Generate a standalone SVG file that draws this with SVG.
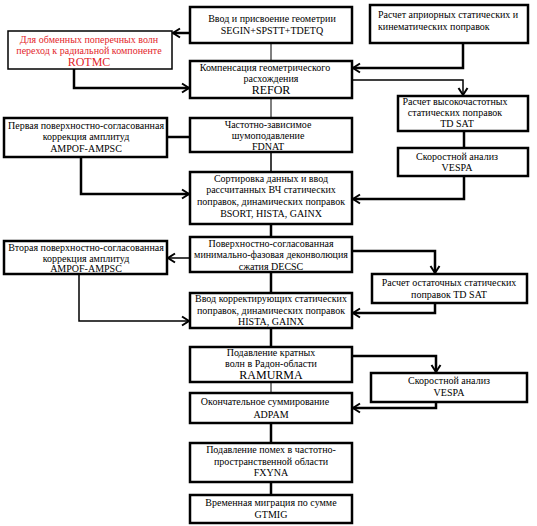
<svg xmlns="http://www.w3.org/2000/svg" width="537" height="526" viewBox="0 0 537 526">
<defs>
<marker id="ah" markerUnits="userSpaceOnUse" markerWidth="12" markerHeight="12" viewBox="-10 -6 12 12" refX="0" refY="0" orient="auto">
<path d="M-7,-4.5 L0,0 L-7,4.5" fill="none" stroke="#000" stroke-width="2"/>
</marker>
<style>
.b{fill:#fff;stroke:#000;stroke-width:2.5}
.bt{fill:#fff;stroke:#000;stroke-width:1.5}
text{font-family:"Liberation Serif","Times New Roman",serif;font-size:10px;fill:#000;text-anchor:middle}
.big{font-size:12px}
.red{fill:#e3262b}
.l{text-anchor:start}
.c{fill:none;stroke:#000;stroke-width:2.5}
.cm{fill:none;stroke:#000;stroke-width:1.5}
.ct{fill:none;stroke:#000;stroke-width:1}
.a{marker-end:url(#ah)}
</style>
</defs>
<rect width="537" height="526" fill="#fff"/>
<g id="connectors">
<path class="ct" d="M271,43 V61"/>
<path class="ct" d="M271,98 V118"/>
<path class="cm" d="M271,152 V172"/>
<path class="c" d="M271,224 V237"/>
<path class="c" d="M271,272 V293"/>
<path class="c" d="M271,328 V347"/>
<path class="ct" d="M271,382 V393"/>
<path class="c" d="M271,423 V443"/>
<path class="c" d="M271,482 V495"/>
<path class="c a" d="M190,33 H173"/>
<path class="c a" d="M74,69 V88 H189"/>
<path class="c a" d="M463,43 V68 H353"/>
<path class="cm a" d="M352,80 H463 V95"/>
<path class="c" d="M167,137 H190"/>
<path class="c a" d="M81,157 V194 H189"/>
<path class="c" d="M464,131 V148"/>
<path class="c a" d="M464,176 V199 H353"/>
<path class="cm a" d="M190,258 H168"/>
<path class="c a" d="M352,251 H435 V273"/>
<path class="c a" d="M435,303 V313 H353"/>
<path class="cm a" d="M79,274 V321 H189"/>
<path class="c a" d="M352,356 H436 V372"/>
<path class="c a" d="M436,402 V408 H353"/>
</g>
<g id="geom">
<rect class="b" x="190" y="7" width="162" height="36"/>
<text x="272" y="21.5">Ввод и присвоение геометрии</text>
<text x="272" y="33.5">SEGIN+SPSTT+TDETQ</text>
</g>
<g id="rotmc">
<rect class="bt" x="8" y="31" width="164" height="38"/>
<text class="red" x="89" y="43">Для обменных поперечных волн</text>
<text class="red" x="89" y="54">переход к радиальной компоненте</text>
<text class="red big" x="89" y="66">ROTMC</text>
</g>
<g id="apriori">
<rect class="b" x="370" y="5" width="158" height="38"/>
<text class="l" x="378" y="18">Расчет априорных статических и</text>
<text class="l" x="378" y="30">кинематических поправок</text>
</g>
<g id="refor">
<rect class="b" x="190" y="61" width="162" height="37"/>
<text x="265" y="71">Компенсация геометрического</text>
<text x="271" y="82">расхождения</text>
<text class="big" x="271" y="94">REFOR</text>
</g>
<g id="tdsat1">
<rect class="b" x="398" y="96" width="130" height="35"/>
<text x="455" y="105">Расчет высокочастотных</text>
<text x="455" y="116">статических поправок</text>
<text x="457" y="127">TD SAT</text>
</g>
<g id="ampof1">
<rect class="b" x="4" y="118" width="163" height="39"/>
<text x="86" y="129">Первая поверхностно-согласованная</text>
<text x="86" y="140">коррекция амплитуд</text>
<text x="86" y="152">AMPOF-AMPSC</text>
</g>
<g id="fdnat">
<rect class="b" x="190" y="118" width="162" height="34"/>
<text x="268" y="128">Частотно-зависимое</text>
<text x="268" y="139">шумоподавление</text>
<text x="268" y="150">FDNAT</text>
</g>
<g id="vespa1">
<rect class="b" x="398" y="148" width="130" height="28"/>
<text x="457" y="160">Скоростной анализ</text>
<text x="457" y="171">VESPA</text>
</g>
<g id="bsort">
<rect class="b" x="190" y="172" width="162" height="52"/>
<text x="271" y="182">Сортировка данных и ввод</text>
<text x="271" y="193">рассчитанных ВЧ статических</text>
<text x="271" y="205">поправок, динамических поправок</text>
<text x="271" y="217">BSORT, HISTA, GAINX</text>
</g>
<g id="decsc">
<rect class="b" x="190" y="237" width="162" height="35"/>
<text x="271" y="247">Поверхностно-согласованная</text>
<text x="271" y="258">минимально-фазовая деконволюция</text>
<text x="271" y="270">сжатия DECSC</text>
</g>
<g id="ampof2">
<rect class="b" x="4" y="241" width="163" height="33"/>
<text x="86" y="251">Вторая поверхностно-согласованная</text>
<text x="86" y="262">коррекция амплитуд</text>
<text x="86" y="272">AMPOF-AMPSC</text>
</g>
<g id="tdsat2">
<rect class="b" x="372" y="274" width="155" height="29"/>
<text x="449" y="286">Расчет остаточных статических</text>
<text x="449" y="298">поправок TD SAT</text>
</g>
<g id="hista">
<rect class="b" x="190" y="293" width="162" height="35"/>
<text x="271" y="302">Ввод корректирующих статических</text>
<text x="271" y="314">поправок, динамических поправок</text>
<text x="271" y="325">HISTA, GAINX</text>
</g>
<g id="ramurma">
<rect class="b" x="190" y="347" width="162" height="35"/>
<text x="271" y="356">Подавление кратных</text>
<text x="271" y="367">волн в Радон-области</text>
<text class="big" x="271" y="379">RAMURMA</text>
</g>
<g id="vespa2">
<rect class="b" x="371" y="373" width="156" height="29"/>
<text x="449" y="384">Скоростной анализ</text>
<text x="449" y="396">VESPA</text>
</g>
<g id="adpam">
<rect class="b" x="190" y="393" width="162" height="30"/>
<text x="265" y="405">Окончательное суммирование</text>
<text x="271" y="418">ADPAM</text>
</g>
<g id="fxyna">
<rect class="b" x="190" y="443" width="162" height="39"/>
<text x="271" y="453">Подавление помех в частотно-</text>
<text x="271" y="465">пространственной области</text>
<text x="271" y="476">FXYNA</text>
</g>
<g id="gtmig">
<rect class="b" x="190" y="495" width="162" height="28"/>
<text x="271" y="506">Временная миграция по сумме</text>
<text x="271" y="518">GTMIG</text>
</g>
</svg>
